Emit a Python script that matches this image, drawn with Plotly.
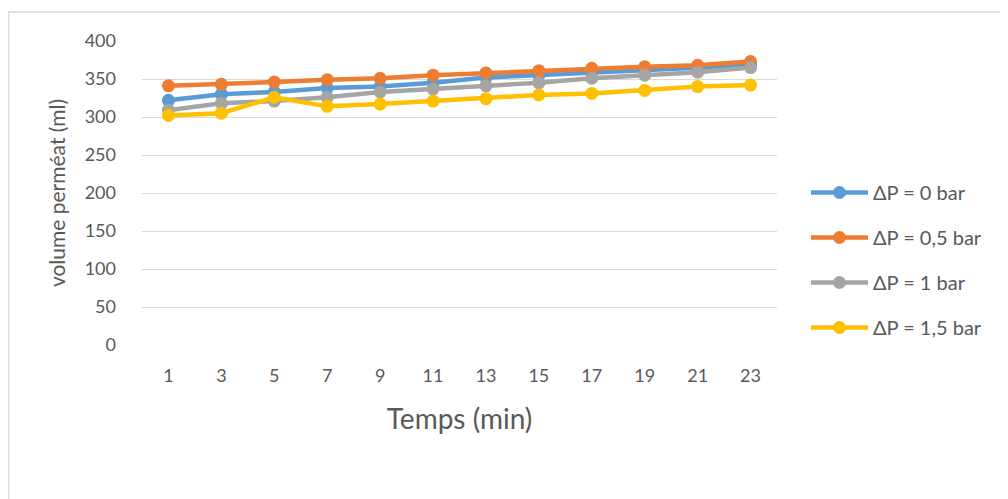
import plotly.graph_objects as go

temps = ["1", "3", "5", "7", "9", "11", "13", "15", "17", "19", "21", "23"]
dp_0 = [322, 330, 333, 338, 340, 345, 352, 355, 359, 361, 364, 368]
dp_05 = [341, 343, 346, 349, 351, 355, 358, 361, 364, 366, 368, 373]
dp_1 = [309, 318, 321, 326, 333, 337, 341, 345, 351, 355, 359, 365]
dp_15 = [302, 305, 326, 314, 317, 321, 324, 329, 331, 335, 340, 342]
names = ["ΔP = 0 bar", "ΔP = 0,5 bar", "ΔP = 1 bar", "ΔP = 1,5 bar"]
colors = ["#5B9BD5", "#ED7D31", "#A5A5A5", "#FFC000"]

FONT = "Lato, Open Sans, sans-serif"
fig = go.Figure()
for i, (nm, ys, c) in enumerate(zip(names, [dp_0, dp_05, dp_1, dp_15], colors)):
    fig.add_trace(go.Scatter(
        x=temps, y=ys, name=nm, mode="lines+markers",
        line=dict(color=c, width=4.5),
        marker=dict(color=c, size=13),
        legendgroup=f"g{i}",
    ))

# page has an 8px body margin; figure is sized so that it fits the window
W, H = 1000, 491
L, R, T, B = 134, 231, 33, 154
pw, ph = W - L - R, H - T - B
fig.update_layout(
    width=W, height=H,
    margin=dict(l=L, r=R, t=T, b=B, autoexpand=False),
    paper_bgcolor="white", plot_bgcolor="white",
    font=dict(family=FONT, color="#595959", size=18),
    showlegend=True,
    legend=dict(
        x=(798 - L) / pw, xanchor="left",
        y=(H - B - 165) / ph, yanchor="top",
        traceorder="grouped", tracegroupgap=16,
        itemwidth=57,
        font=dict(family=FONT, size=20, color="#595959"),
        bgcolor="rgba(0,0,0,0)",
    ),
    xaxis=dict(
        type="category", range=[-0.5, 11.5], showgrid=False, zeroline=False, showline=False,
        ticks="", ticklabelstandoff=18,
        tickfont=dict(size=18, color="#595959"),
        title=dict(text="Temps (min)", font=dict(size=28, color="#595959"), standoff=24),
    ),
    yaxis=dict(
        range=[0, 400], dtick=50, showgrid=True, gridcolor="#D9D9D9", gridwidth=1.3,
        zeroline=False, showline=False, ticks="", ticklabelstandoff=25,
        tickfont=dict(size=18, color="#595959"),
        title=dict(text="volume perméat (ml)", font=dict(size=21, color="#595959"), standoff=13),
    ),
    shapes=[dict(
        type="rect", xref="paper", yref="paper",
        x0=(0.5 - L) / pw, x1=(1030 - L) / pw,
        y0=(H - B - 520) / ph, y1=(H - B - 4) / ph,
        line=dict(color="#D9D9D9", width=1.5), layer="below",
    )],
)
fig.write_html("out.html")
